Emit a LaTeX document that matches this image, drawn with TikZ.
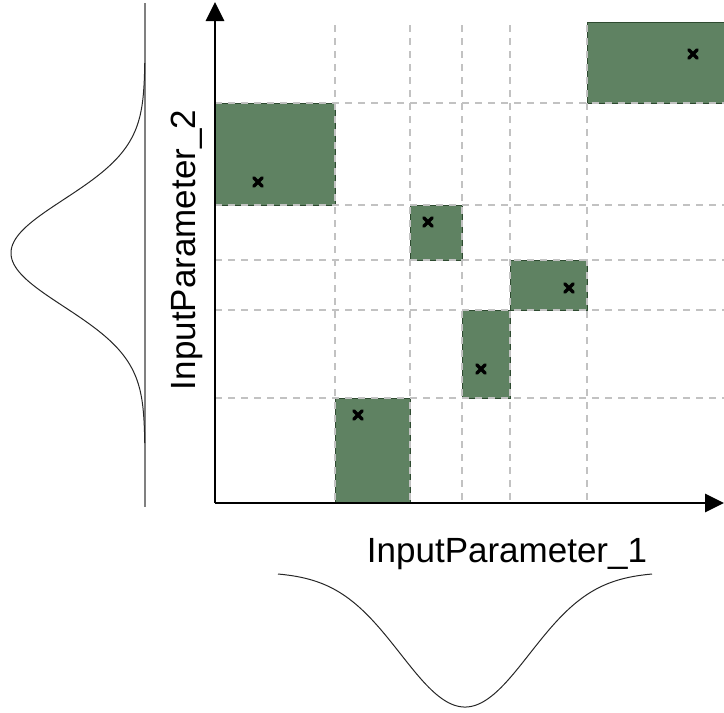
\documentclass[tikz,border=0pt]{standalone}
\usepackage{fontspec}
\setmainfont{Liberation Sans}
\usetikzlibrary{arrows.meta}
\definecolor{cellgreen}{HTML}{5F8262}
\definecolor{celledge}{HTML}{2E4A30}
\definecolor{gridgray}{HTML}{C2C2C2}
\tikzset{
  cell/.style={fill=cellgreen, draw=celledge, line width=1pt},
  gridline/.style={draw=gridgray, line width=1.4pt, dash pattern=on 7pt off 6pt},
  axis/.style={line width=2.8pt, -{Triangle[width=18pt,length=19pt]}},
  xmark/.style={line width=3.4pt, line cap=round},
  density/.style={line width=1pt, black!85},
  axislabel/.style={font=\fontsize{35}{42}\selectfont, inner sep=0pt}
}
\begin{document}
\begin{tikzpicture}[x={(1pt,0)}, y={(0,-1pt)}]
  \useasboundingbox (0,0) rectangle (724,713);

  % sampled cells
  \draw[cell] (215,103) rectangle (335,205);
  \draw[cell] (587,22) rectangle (726,103);
  \draw[cell] (410,205) rectangle (462,260);
  \draw[cell] (510,260) rectangle (587,310);
  \draw[cell] (462,310) rectangle (510,398);
  \draw[cell] (335,398) rectangle (410,503);

  % stratification grid
  \foreach \gx in {335,410,462,510,587}
    \draw[gridline] (\gx,25) -- (\gx,503);
  \foreach \gy in {103,205,260,310,398}
    \draw[gridline] (215,\gy) -- (724,\gy);

  % sample points
  \foreach \px/\py in {258/182, 693/54, 428/222, 569/288, 481/369, 358/415}
    \draw[xmark] (\px,\py) +(-4.2,-4.2) -- +(4.2,4.2) +(-4.2,4.2) -- +(4.2,-4.2);

  % axes
  \coordinate (origin) at (215,503);
  \coordinate (ytip) at (215,2);
  \coordinate (xtip) at (724,503);
  \draw[axis] (origin) -- (ytip);
  \draw[axis] (origin) -- (xtip);

  \node[axislabel, anchor=base] (xlabel) at (507,562) {InputParameter\_1};
  \node[axislabel, anchor=base, rotate=90] (ylabel) at (195,250) {InputParameter\_2};

  % marginal densities
  \draw[line width=1.3pt, black!50] (145,3) -- (145,507);
  \draw[density] plot[domain=63:443, samples=150, smooth]
    ({145-134*exp(-((\x-253)/53.5)^2/2)}, \x);
  \draw[density] plot[domain=278:652, samples=150, smooth]
    (\x, {572+135*exp(-((\x-465)/64.5)^2/2)});
\end{tikzpicture}
\end{document}
